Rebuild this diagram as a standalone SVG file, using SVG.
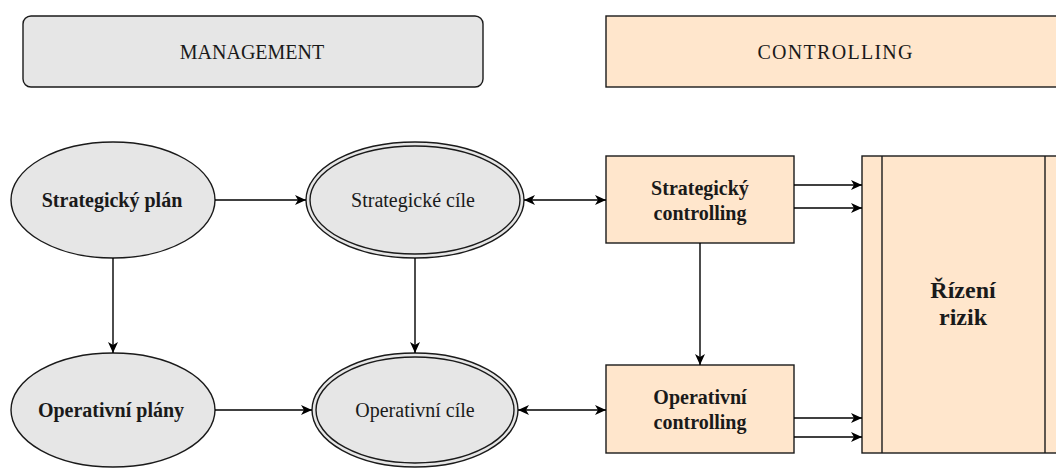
<svg xmlns="http://www.w3.org/2000/svg" width="1056" height="468" viewBox="0 0 1056 468">
<style>
text{font-family:"Liberation Serif","Times New Roman",serif;fill:#1a1a1a;text-anchor:middle}
.t{font-size:20px}
.b{font-size:20px;font-weight:bold}
.gray{fill:#e6e6e6;stroke:#1a1a1a;stroke-width:1.4}
.org{fill:#ffe6cc;stroke:#1a1a1a;stroke-width:1.4}
.ln{fill:none;stroke:#1a1a1a;stroke-width:1.4}
.c{fill:none;stroke:#000;stroke-width:1.4}
</style>
<defs>
<marker id="ah" markerWidth="12" markerHeight="10" refX="11" refY="5" orient="auto-start-reverse" markerUnits="userSpaceOnUse">
<path d="M0,0 L11,5 L0,10 L3,5 Z" fill="#000"/>
</marker>
</defs>
<g id="management">
<rect class="gray" x="23" y="16" width="460" height="71" rx="8"/>
<text class="t" x="252" y="59">MANAGEMENT</text>
</g>
<g id="controlling">
<rect class="org" x="606" y="16" width="470" height="71"/>
<text class="t" x="835" y="59" textLength="155" lengthAdjust="spacing">CONTROLLING</text>
</g>
<g id="strategicky-plan">
<ellipse class="gray" cx="113" cy="200" rx="102" ry="58"/>
<text class="b" x="112" y="207">Strategický plán</text>
</g>
<g id="strategicke-cile">
<ellipse class="gray" cx="415" cy="200" rx="109" ry="58"/>
<ellipse class="ln" cx="415" cy="200" rx="105" ry="54"/>
<text class="t" x="413" y="207">Strategické cíle</text>
</g>
<g id="operativni-plany">
<ellipse class="gray" cx="113" cy="410" rx="102" ry="57"/>
<text class="b" x="111" y="417">Operativní plány</text>
</g>
<g id="operativni-cile">
<ellipse class="gray" cx="415" cy="410" rx="103" ry="57"/>
<ellipse class="ln" cx="415" cy="410" rx="99" ry="53"/>
<text class="t" x="415" y="417">Operativní cíle</text>
</g>
<g id="strategicky-controlling">
<rect class="org" x="606" y="156" width="188" height="87"/>
<text class="b" x="700" y="195">Strategický</text>
<text class="b" x="700" y="220">controlling</text>
</g>
<g id="operativni-controlling">
<rect class="org" x="606" y="365" width="188" height="88"/>
<text class="b" x="700" y="404">Operativní</text>
<text class="b" x="700" y="429">controlling</text>
</g>
<g id="rizeni-rizik">
<rect class="org" x="862" y="156" width="210" height="297"/>
<line class="ln" x1="882" y1="156" x2="882" y2="453"/>
<line class="ln" x1="1045" y1="156" x2="1045" y2="453"/>
<text style="font-size:24px;font-weight:bold" x="963" y="298">Řízení</text>
<text style="font-size:24px;font-weight:bold" x="963" y="325">rizik</text>
</g>
<g id="connectors">
<line class="c" x1="215" y1="200" x2="306" y2="200" marker-end="url(#ah)"/>
<line class="c" x1="215" y1="410" x2="312" y2="410" marker-end="url(#ah)"/>
<line class="c" x1="113" y1="258" x2="113" y2="353" marker-end="url(#ah)"/>
<line class="c" x1="415" y1="258" x2="415" y2="353" marker-end="url(#ah)"/>
<line class="c" x1="524" y1="200" x2="606" y2="200" marker-start="url(#ah)" marker-end="url(#ah)"/>
<line class="c" x1="518" y1="410" x2="606" y2="410" marker-start="url(#ah)" marker-end="url(#ah)"/>
<line class="c" x1="700" y1="243" x2="700" y2="365" marker-end="url(#ah)"/>
<line class="c" x1="794" y1="185" x2="862" y2="185" marker-end="url(#ah)"/>
<line class="c" x1="794" y1="208" x2="862" y2="208" marker-end="url(#ah)"/>
<line class="c" x1="794" y1="418" x2="862" y2="418" marker-end="url(#ah)"/>
<line class="c" x1="794" y1="437" x2="862" y2="437" marker-end="url(#ah)"/>
</g>
</svg>
